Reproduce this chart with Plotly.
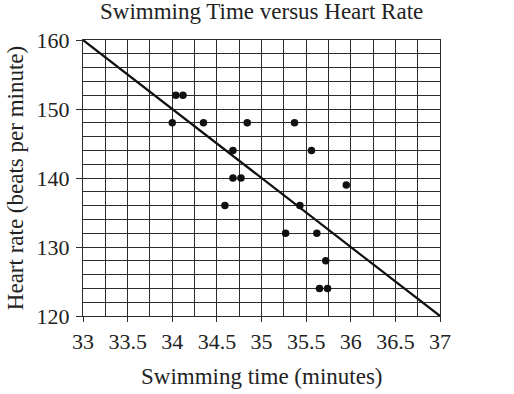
import plotly.graph_objects as go

swim_time = [34.0, 34.04, 34.12, 34.35, 34.84, 34.68, 34.68, 34.77, 35.37,
             35.56, 35.95, 34.59, 35.43, 35.27, 35.62, 35.72, 35.65, 35.74]
heart_rate = [148, 152, 152, 148, 148, 144, 140, 140, 148,
              144, 139, 136, 136, 132, 132, 128, 124, 124]
line_x = [33, 37]
line_y = [160, 120]

title_text = "Swimming Time versus Heart Rate"
x_title = "Swimming time (minutes)"
y_title = "Heart rate (beats per minute)"

FONT = "Liberation Serif"
GRID = "#2c2c2c"
TXT = "#222222"

fig = go.Figure()
fig.add_trace(go.Scatter(x=line_x, y=line_y, mode="lines",
                         line=dict(color="#111111", width=2.2), showlegend=False))
fig.add_trace(go.Scatter(x=swim_time, y=heart_rate, mode="markers",
                         marker=dict(color="#111111", size=7.5), showlegend=False))

fig.update_layout(
    width=514, height=394,
    margin=dict(l=83, r=74, t=40, b=78),
    paper_bgcolor="white", plot_bgcolor="white",
    font=dict(family=FONT, size=22, color=TXT),
    xaxis=dict(
        range=[33, 37], dtick=0.5, tick0=33, automargin=False,
        showgrid=True, gridcolor=GRID, gridwidth=1.3,
        minor=dict(dtick=0.25, showgrid=True, gridcolor=GRID, gridwidth=1.3),
        showline=True, linecolor=GRID, linewidth=1.3, mirror=True,
        ticks="outside", ticklen=5, tickcolor=GRID, tickwidth=1.3,
        zeroline=False, tickfont=dict(size=22),
    ),
    yaxis=dict(
        range=[120, 160], dtick=10, tick0=120, automargin=False,
        showgrid=True, gridcolor=GRID, gridwidth=1.3,
        minor=dict(dtick=2, showgrid=True, gridcolor=GRID, gridwidth=1.3),
        showline=True, linecolor=GRID, linewidth=1.3, mirror=True,
        ticks="outside", ticklen=6, tickcolor=GRID, tickwidth=1.3,
        zeroline=False, tickfont=dict(size=22), ticklabelstandoff=2,
    ),
    annotations=[
        dict(text=title_text, xref="paper", yref="paper", x=0.5, y=1.103,
             xanchor="center", yanchor="middle", showarrow=False,
             font=dict(family=FONT, size=23, color=TXT)),
        dict(text=x_title, xref="paper", yref="paper", x=0.5, y=-0.221,
             xanchor="center", yanchor="middle", showarrow=False,
             font=dict(family=FONT, size=23, color=TXT)),
        dict(text=y_title, xref="paper", yref="paper", x=-0.190, y=0.5,
             xanchor="center", yanchor="middle", showarrow=False, textangle=-90,
             font=dict(family=FONT, size=23, color=TXT)),
    ],
)

fig.write_html("out.html", config={"displayModeBar": False},
               post_script="document.body.style.margin='0';")
